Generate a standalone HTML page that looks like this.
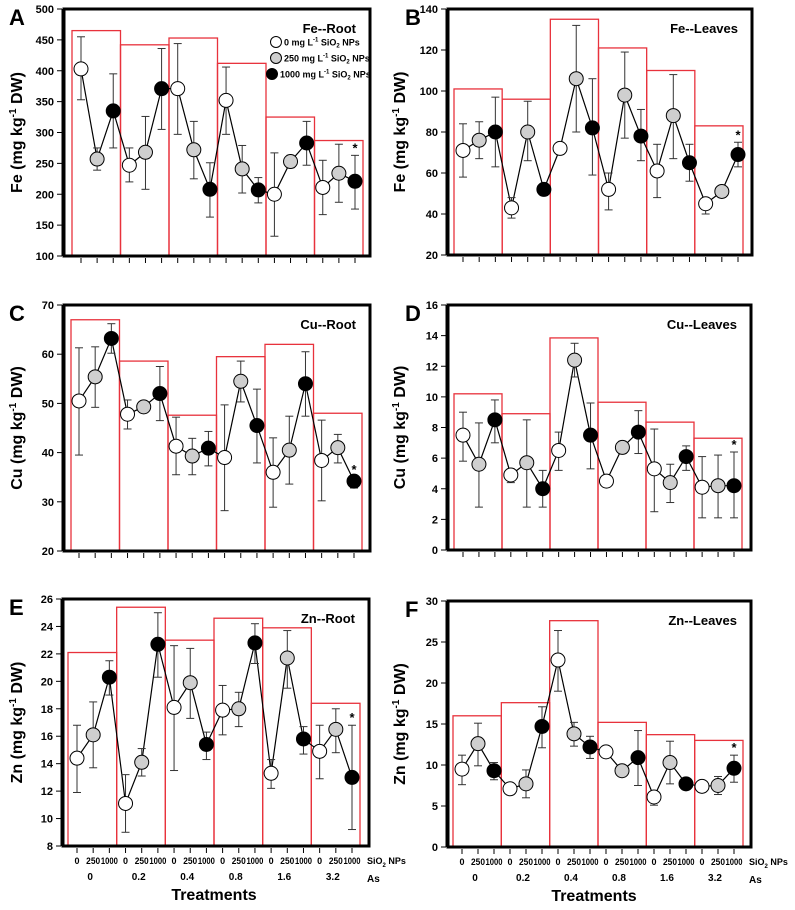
<!DOCTYPE html>
<html><head><meta charset="utf-8"><style>
body{margin:0;background:#fff}
svg text{font-family:"Liberation Sans",sans-serif}
</style></head><body>
<svg id="fig" width="795" height="905" viewBox="0 0 795 905" xmlns="http://www.w3.org/2000/svg"></svg>
<script>
const feRootMean=[403,257,335,247,268,371,371,272,208,352,241,207,200,253,283,211,234,221];
const feRootHi=[455,275,395,275,326,436,444,318,251,406,279,227,267,263,318,255,281,263];
const feRootLo=[353,239,275,220,208,305,297,225,163,297,202,186,132,243,247,167,187,176];
const feRootBars=[465,442,453,412,325,287];
const feLeafMean=[71,76,80,43,80,52,72,106,82,52,98,78,61,88,65,45,51,69];
const feLeafHi=[84,85,97,48,95,54,72,132,106,60,119,91,74,108,74,47,51,75];
const feLeafLo=[58,67,63,38,66,49,72,80,59,42,77,66,48,67,56,40,51,63];
const feLeafBars=[101,96,135,121,110,83];
const cuRootMean=[50.5,55.4,63.2,47.8,49.3,52,41.3,39.3,40.9,39,54.5,45.5,36,40.5,54,38.4,41,34.2];
const cuRootHi=[61.3,61.5,66.2,50.7,49.3,57.5,47.2,42.9,44.3,49.7,58.6,52.9,43,47.4,60.5,46.6,43.7,35];
const cuRootLo=[39.5,49.2,60.2,44.8,49.3,46.5,35.5,35.5,37.3,28.2,50.3,37.9,28.9,33.6,47.4,30.2,37.9,32.8];
const cuRootBars=[67,58.6,47.6,59.5,62,48];
const cuLeafMean=[7.5,5.6,8.5,4.9,5.7,4,6.5,12.4,7.5,4.5,6.7,7.7,5.3,4.4,6.1,4.1,4.2,4.2];
const cuLeafHi=[9,8.3,9.8,5.3,8.5,5.2,7.7,13.5,9.6,4.5,7.1,9.1,7.9,5.6,6.8,6.1,6.2,6.4];
const cuLeafLo=[5.8,2.8,7,4.4,2.8,2.8,5.2,11.3,5.3,4.5,6.3,6.3,2.5,3.1,5.2,2.1,2.1,2.1];
const cuLeafBars=[10.2,8.9,13.85,9.65,8.35,7.3];
const znRootMean=[14.4,16.1,20.3,11.1,14.1,22.7,18.1,19.9,15.4,17.9,18,22.8,13.3,21.7,15.8,14.9,16.5,13];
const znRootHi=[16.8,18.5,21.5,13.2,15.1,25,22.6,22.4,16.3,19.7,19.2,24.2,14.3,23.7,16.7,16.8,18,16.8];
const znRootLo=[11.9,13.7,19,9,13.1,20.3,13.5,17.3,14.3,16.1,16.7,21.3,12.2,19.5,14.7,12.9,14.8,9.2];
const znRootBars=[22.1,25.4,23,24.6,23.9,18.4];
const znLeafMean=[9.5,12.6,9.3,7.1,7.7,14.7,22.8,13.8,12.2,11.6,9.3,10.9,6.1,10.3,7.7,7.4,7.5,9.6];
const znLeafHi=[11.2,15.1,10.3,7.1,9.4,17.1,26.4,15.2,13.5,11.6,9.3,14.2,6.1,12.9,7.7,7.4,8.6,11.2];
const znLeafLo=[7.6,9.9,8.2,7.1,6,12.1,19,12.3,10.8,11.6,9.3,7.5,5.1,7.7,7.7,7.4,6.4,7.9];
const znLeafBars=[16,17.6,27.6,15.2,13.7,13];
const feRootTicks=[100,150,200,250,300,350,400,450,500];
const feLeafTicks=[20,40,60,80,100,120,140];
const cuRootTicks=[20,30,40,50,60,70];
const cuLeafTicks=[0,2,4,6,8,10,12,14,16];
const znRootTicks=[8,10,12,14,16,18,20,22,24,26];
const znLeafTicks=[0,5,10,15,20,25,30];
const siLabels=["0","250","1000"];
const asLabels=["0","0.2","0.4","0.8","1.6","3.2"];
const legendLabels=["0 mg L","250 mg L","1000 mg L"];
const fills=["#fff","#cfcfcf","#000"];

const NS="http://www.w3.org/2000/svg";
const svg=document.getElementById('fig');
function mk(tag,attrs,parent,txt){const e=document.createElementNS(NS,tag);for(const k in attrs)e.setAttribute(k,attrs[k]);if(txt!==undefined)e.textContent=txt;(parent||svg).appendChild(e);return e;}

const panels=[
 {id:'a',letter:'A',title:'Fe--Root',el:'Fe',mean:feRootMean,hi:feRootHi,lo:feRootLo,bars:feRootBars,ticks:feRootTicks,L:64,R:370,T:9,B:256,v0:100,v1:500,p0:81,p1:355,b0:72,b1:363,left:true},
 {id:'b',letter:'B',title:'Fe--Leaves',el:'Fe',mean:feLeafMean,hi:feLeafHi,lo:feLeafLo,bars:feLeafBars,ticks:feLeafTicks,L:448,R:752,T:9,B:255,v0:20,v1:140,p0:463,p1:738,b0:454,b1:743,left:false},
 {id:'c',letter:'C',title:'Cu--Root',el:'Cu',mean:cuRootMean,hi:cuRootHi,lo:cuRootLo,bars:cuRootBars,ticks:cuRootTicks,L:64,R:370,T:305,B:551,v0:20,v1:70,p0:79,p1:354,b0:71,b1:362,left:true},
 {id:'d',letter:'D',title:'Cu--Leaves',el:'Cu',mean:cuLeafMean,hi:cuLeafHi,lo:cuLeafLo,bars:cuLeafBars,ticks:cuLeafTicks,L:448,R:751,T:305,B:550,v0:0,v1:16,p0:463,p1:734,b0:454,b1:742,left:false},
 {id:'e',letter:'E',title:'Zn--Root',el:'Zn',mean:znRootMean,hi:znRootHi,lo:znRootLo,bars:znRootBars,ticks:znRootTicks,L:63,R:369,T:599,B:846,v0:8,v1:26,p0:77,p1:352,b0:68,b1:360,left:true,xlab:true},
 {id:'f',letter:'F',title:'Zn--Leaves',el:'Zn',mean:znLeafMean,hi:znLeafHi,lo:znLeafLo,bars:znLeafBars,ticks:znLeafTicks,L:448,R:751,T:601,B:847,v0:0,v1:30,p0:462,p1:734,b0:453,b1:743,left:false,xlab:true}
];

panels.forEach(p=>{
 const g=mk('g',{});
 
 
 const y=v=>p.B-(v-p.v0)/(p.v1-p.v0)*(p.B-p.T);
 const x=i=>p.p0+i*(p.p1-p.p0)/17;
 const bw=(p.b1-p.b0)/6;
 p.bars.forEach((v,i)=>{
  const r=mk('rect',{x:p.b0+i*bw,y:y(v),width:bw,height:p.B-y(v),fill:'none',stroke:'#e8323c','stroke-width':1.3},g);
  
  
 });
 const fr=mk('rect',{x:p.L,y:p.T,width:p.R-p.L,height:p.B-p.T,fill:'none',stroke:'#000','stroke-width':3},g);
 
 
 const ax=p.L-2;
 mk('line',{x1:ax,y1:p.T,x2:ax,y2:p.B,stroke:'#000','stroke-width':1},g);
 p.ticks.forEach(t=>{
  mk('line',{x1:ax-5,y1:y(t),x2:ax,y2:y(t),stroke:'#000'},g);
  const tl=mk('text',{x:ax-8,y:y(t)+4,'text-anchor':'end','font-size':11,'font-weight':'bold'},g,String(t));
  
  
 });
 for(let i=0;i<18;i++) mk('line',{x1:x(i),y1:p.B+2,x2:x(i),y2:p.B+7,stroke:'#000'},g);
 const tx=p.left?22:405, cy=(p.T+p.B)/2;
 const yt=mk('text',{x:tx,y:cy,transform:`rotate(-90 ${tx} ${cy})`,'text-anchor':'middle','font-size':16,'font-weight':'bold'},g);
 
 
 mk('tspan',{},yt,p.el+' (mg kg');
 mk('tspan',{dy:-6,'font-size':10},yt,'-1');
 mk('tspan',{dy:6},yt,' DW)');
 const lt=mk('text',{x:p.left?9:405,y:p.T+16,'font-size':22,'font-weight':'bold'},g,p.letter);
 
 
 const tt=mk('text',{x:p.R-14,y:p.T+24,'text-anchor':'end','font-size':13,'font-weight':'bold'},g,p.title);
 
 
 const ln=mk('polyline',{points:p.mean.map((v,i)=>x(i)+','+y(v)).join(' '),fill:'none',stroke:'#000','stroke-width':1.2},g);
 
 
 p.mean.forEach((v,i)=>{
  const xi=x(i);
  mk('line',{x1:xi,y1:y(p.hi[i]),x2:xi,y2:y(p.lo[i]),stroke:'#333'},g);
  mk('line',{x1:xi-4,y1:y(p.hi[i]),x2:xi+4,y2:y(p.hi[i]),stroke:'#333'},g);
  mk('line',{x1:xi-4,y1:y(p.lo[i]),x2:xi+4,y2:y(p.lo[i]),stroke:'#333'},g);
 });
 p.mean.forEach((v,i)=>{
  const c=mk('circle',{cx:x(i),cy:y(v),r:7,fill:fills[i%3],stroke:'#000','stroke-width':1},g);
  
  
 });
 const as=mk('text',{x:x(17),y:y(p.hi[17])-3,'text-anchor':'middle','font-size':13,'font-weight':'bold'},g,'*');
 
 
 if(p.xlab){
  for(let i=0;i<18;i++){
   const lab=siLabels[i%3];
   const at={x:x(i),y:p.B+18,'text-anchor':'middle','font-size':9,'font-weight':'bold'};
   if(lab.length===4){at.textLength=17;at.lengthAdjust='spacingAndGlyphs';}
   if(lab.length===3){at.textLength=14;at.lengthAdjust='spacingAndGlyphs';}
   const s=mk('text',at,g,lab);
   
   
  }
  for(let j=0;j<6;j++){
   const s=mk('text',{x:x(j*3+1)-3,y:p.B+34,'font-size':10,'font-weight':'bold','text-anchor':'middle'},g,asLabels[j]);
   
   
  }
  const si=mk('text',{x:p.R-2,y:p.B+18,'font-size':9,'font-weight':'bold'},g);
  
  
  mk('tspan',{},si,'SiO');mk('tspan',{dy:3,'font-size':6},si,'2');mk('tspan',{dy:-3},si,' NPs');
  const asl=mk('text',{x:p.R-2,y:p.B+36,'font-size':10,'font-weight':'bold'},g,'As');
  
  
  const tr=mk('text',{x:p.left?214:594,y:p.B+54,'text-anchor':'middle','font-size':16,'font-weight':'bold'},g,'Treatments');
  
  
 }
 if(p.id==='a'){
  const lg=mk('g',{},g);
  
  
  legendLabels.forEach((l,k)=>{
   const yy=42+k*16;
   mk('circle',{cx:276-(k==2?4:0),cy:yy,r:5.5,fill:fills[k],stroke:'#000'},lg);
   const t=mk('text',{x:284-(k==2?4:0),y:yy+3.5,'font-size':9,'font-weight':'bold'},lg);
   
   
   mk('tspan',{},t,l);mk('tspan',{dy:-4,'font-size':6},t,'-1');mk('tspan',{dy:4},t,' SiO');
   mk('tspan',{dy:2,'font-size':6},t,'2');mk('tspan',{dy:-2},t,' NPs');
  });
 }
});
</script>
</body></html>
